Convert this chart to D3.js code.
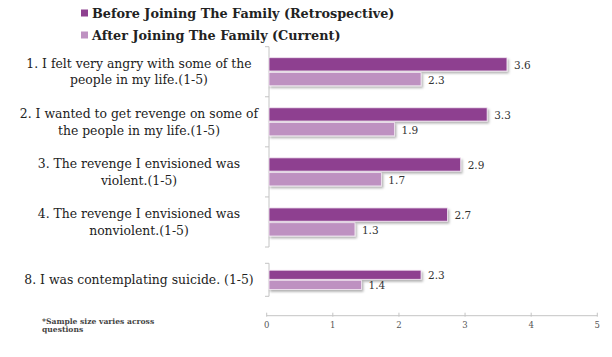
<!DOCTYPE html>
<html><head><meta charset="utf-8">
<script src="https://cdn.jsdelivr.net/npm/d3@7/dist/d3.min.js"></script>
<style>body{margin:0;background:#fff}svg{display:block}</style>
</head><body>
<script>
const categories = [
  ["1. I felt very angry with some of the","people in my life.(1-5)"],
  ["2. I wanted to get revenge on some of","the people in my life.(1-5)"],
  ["3. The revenge I envisioned was","violent.(1-5)"],
  ["4. The revenge I envisioned was","nonviolent.(1-5)"],
  ["8. I was contemplating suicide. (1-5)"]
];
const seriesNames = ["Before Joining The Family (Retrospective)","After Joining The Family (Current)"];
const before = [3.6, 3.3, 2.9, 2.7, 2.3];
const after = [2.3, 1.9, 1.7, 1.3, 1.4];
const xTicks = [0,1,2,3,4,5];
const footnote = ["*Sample size varies across","questions"];
const colors = ["#8E4190","#BE91C1"];

const W=612,H=357;
const svg=d3.select("body").append("svg").attr("width",W).attr("height",H);
const defs=svg.append("defs");
const f=defs.append("filter").attr("id","sh").attr("x","-5%").attr("y","-30%").attr("width","115%").attr("height","180%");
f.append("feDropShadow").attr("dx",1.5).attr("dy",2).attr("stdDeviation",1).attr("flood-color","#000").attr("flood-opacity",0.3);

const serif="'DejaVu Serif', Georgia, serif";
const xBar=d3.scaleLinear().domain([0,5]).range([269,599.5]);
const xAx=d3.scaleLinear().domain([0,5]).range([266.7,597.3]);

const idxTop=[0,1,2,3], idxBot=[4];
const yTop=d3.scaleBand().domain(idxTop).range([46.7,247]).paddingInner(0.44).paddingOuter(0.22);
const yBot=d3.scaleBand().domain(idxBot).range([263.3,296.3]).paddingInner(0).paddingOuter(0.36);

function drawGroup(idx,y,gap){
  const r=y.range();
  const axisG=svg.append("g").attr("stroke","#c4c4c4").attr("stroke-width",1);
  axisG.append("line").attr("x1",xBar(0)).attr("x2",xBar(0)).attr("y1",r[0]).attr("y2",r[1]);
  const bounds=[r[0]].concat(idx.map(i=>y(i)+y.bandwidth()+y.step()*y.paddingInner()/2).slice(0,-1)).concat([r[1]]);
  axisG.selectAll("line.t").data(bounds).join("line").attr("class","t")
    .attr("x1",xBar(0)-4).attr("x2",xBar(0)).attr("y1",d=>d).attr("y2",d=>d);
  const bh=(y.bandwidth()-gap)/2;
  idx.forEach(i=>{
    [before[i],after[i]].forEach((v,s)=>{
      const y0=y(i)+s*(bh+gap);
      svg.append("rect").attr("x",xBar(0)).attr("y",y0).attr("width",xBar(v)-xBar(0)).attr("height",bh)
        .attr("fill",colors[s]).attr("stroke","#f3e6f3").attr("stroke-width",0.8).attr("filter","url(#sh)");
      svg.append("text").attr("x",xBar(v)+7).attr("y",y0+bh/2+4.5).attr("font-family",serif)
        .attr("font-size",10.5).attr("fill","#333").text(v.toFixed(1));
    });
    const lines=categories[i];
    const cy=y(i)+y.bandwidth()/2;
    const lh=16.5;
    lines.forEach((t,k)=>{
      svg.append("text").attr("x",139).attr("y",cy+(k-(lines.length-1)/2)*lh+4.5).attr("text-anchor","middle")
        .attr("font-family",serif).attr("font-size",12.4).attr("fill","#222").text(t);
    });
  });
}
drawGroup(idxTop,yTop,1.5);
drawGroup(idxBot,yBot,1);

const xg=svg.append("g").attr("transform","translate(0,315.7)");
xg.append("line").attr("x1",xAx(0)).attr("x2",xAx(5)).attr("stroke","#c4c4c4");
xg.selectAll("line.t").data(xTicks).join("line").attr("class","t").attr("x1",d=>xAx(d)).attr("x2",d=>xAx(d))
  .attr("y1",-3).attr("y2",1).attr("stroke","#c4c4c4");
xg.selectAll("text").data(xTicks).join("text").attr("x",d=>xAx(d)).attr("y",12.5).attr("text-anchor","middle")
  .attr("font-family",serif).attr("font-size",8.5).attr("fill","#555").text(d=>d);

seriesNames.forEach((n,i)=>{
  const cy=13+i*22;
  svg.append("rect").attr("x",81).attr("y",cy-3.5).attr("width",7).attr("height",7).attr("fill",colors[i]);
  svg.append("text").attr("x",92).attr("y",cy+5).attr("font-family",serif).attr("font-weight","bold")
    .attr("font-size",12.8).attr("fill","#222").text(n);
});

footnote.forEach((t,i)=>{
  svg.append("text").attr("x",42).attr("y",323.5+i*8.5).attr("font-family",serif).attr("font-weight","bold")
    .attr("font-size",7.6).attr("fill","#444").text(t);
});
</script>
</body></html>
